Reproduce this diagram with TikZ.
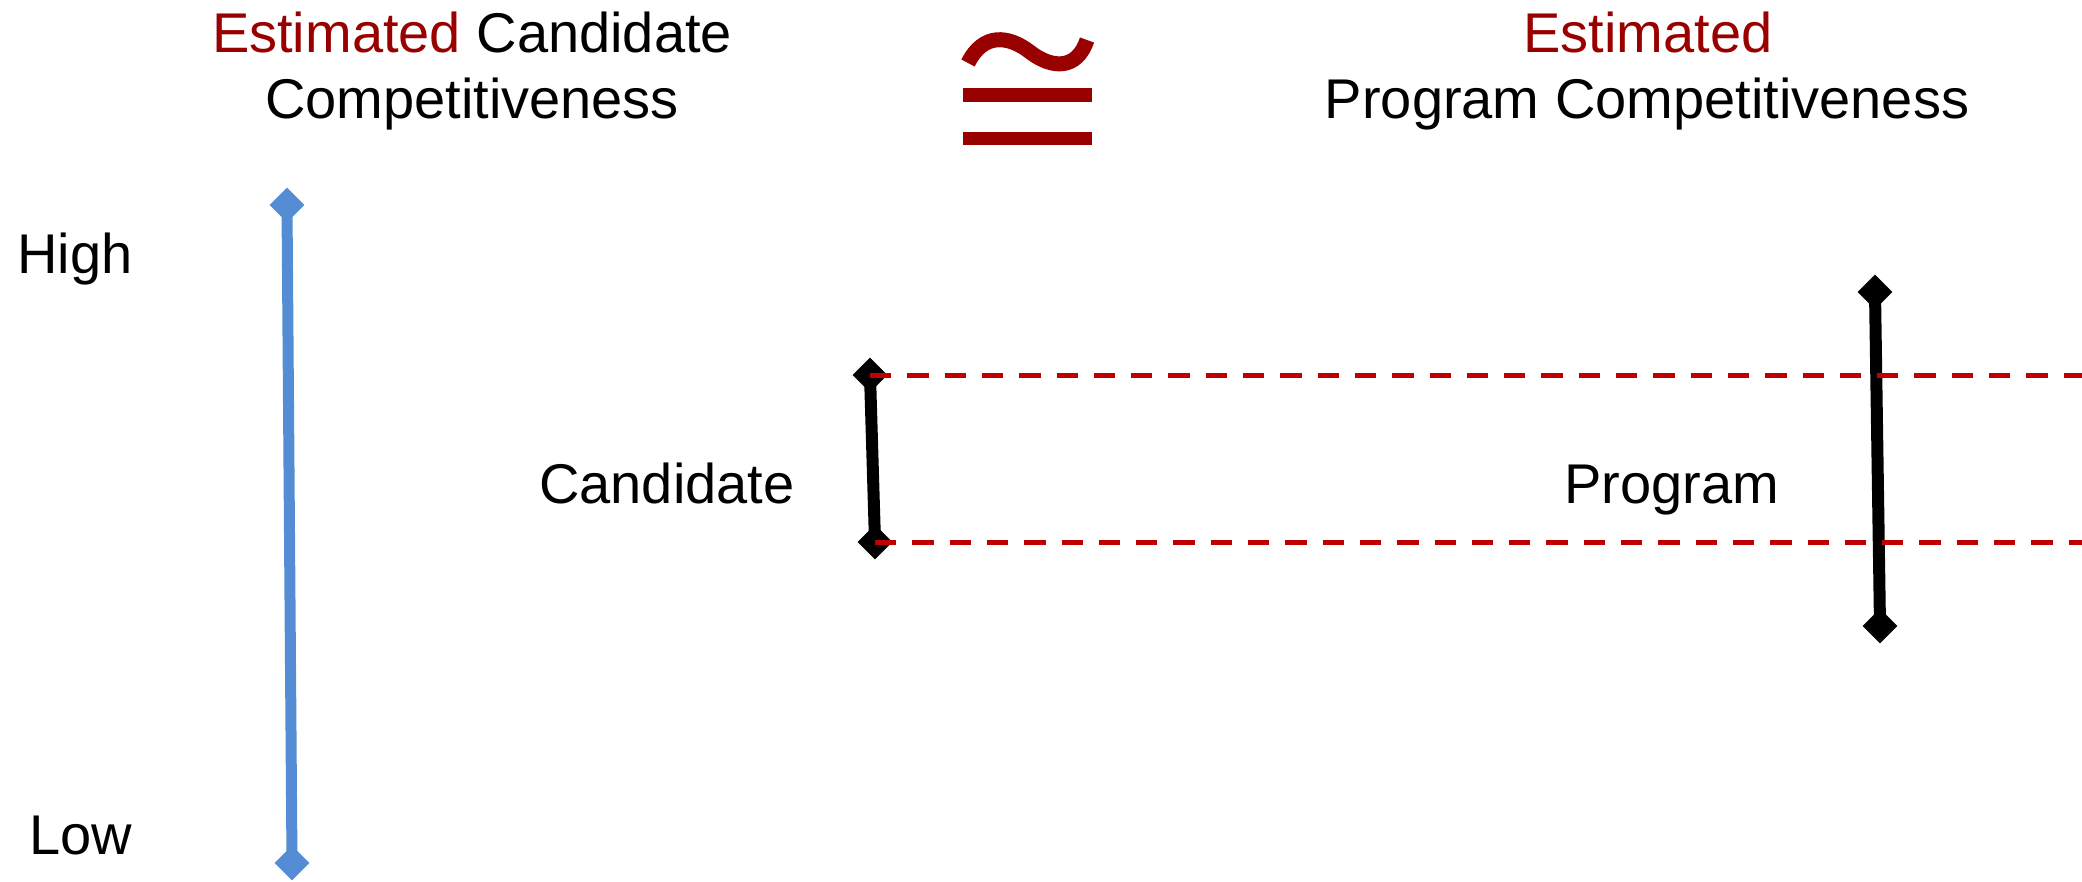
\documentclass[tikz,border=0pt]{standalone}
\usepackage{fontspec}
\setmainfont{Liberation Sans}
\usetikzlibrary{shapes.geometric}
\definecolor{darkred}{RGB}{153,0,0}
\definecolor{dashred}{RGB}{192,0,0}
\definecolor{axisblue}{RGB}{84,141,212}
\begin{document}
\begin{tikzpicture}[x=1pt,y=-1pt,
  lbl/.style={inner sep=0pt,font=\fontsize{56}{66}\selectfont},
  endpt/.style={shape=diamond,fill=#1,draw=none,inner sep=0pt,minimum width=35pt,minimum height=35pt},
  bar/.style={line width=12pt,draw=#1},
  guide/.style={draw=dashred,line width=5pt,dash pattern=on 21.3pt off 16pt},
  congcol/.style={fill=darkred,draw=none}
]
\useasboundingbox (0,0) rectangle (2082,881);
% titles
\node[lbl,anchor=base] (lt1) at (472,52) {\textcolor{darkred}{Estimated} Candidate};
\node[lbl,anchor=base] (lt2) at (472,118) {Competitiveness};
\node[lbl,anchor=base,text=darkred] (rt1) at (1648,52) {Estimated};
\node[lbl,anchor=base] (rt2) at (1647,118) {Program Competitiveness};
% congruence symbol
\fill[congcol] (963,88) rectangle (1092,102);
\fill[congcol] (963,132) rectangle (1092,145);
\draw[darkred,line width=15pt] (968,63) .. controls (983,33) and (1008,35) .. (1030,52) .. controls (1052,69) and (1077,70) .. (1087,40);
% labels
\node[lbl,anchor=base west] (high) at (17,273) {High};
\node[lbl,anchor=base west] (low) at (29,854) {Low};
\node[lbl,anchor=base west] (cand) at (539,503) {Candidate};
\node[lbl,anchor=base west] (prog) at (1564,503) {Program};
% blue axis
\node[endpt=axisblue] (atop) at (287,205) {};
\node[endpt=axisblue] (abot) at (292,863) {};
\draw[bar=axisblue,line width=11pt] (atop.center) -- (abot.center);
% candidate bar
\node[endpt=black] (ctop) at (870,375) {};
\node[endpt=black] (cbot) at (875,542) {};
\draw[bar=black] (ctop.center) -- (cbot.center);
% program bar
\node[endpt=black] (ptop) at (1875,292) {};
\node[endpt=black] (pbot) at (1880,626) {};
\draw[bar=black] (ptop.center) -- (pbot.center);
% guides
\coordinate (rtop) at (2082,375);
\coordinate (rbot) at (2082,542);
\draw[guide] (ctop.center) -- (rtop);
\draw[guide] (cbot.center) -- (rbot);
\end{tikzpicture}
\end{document}
